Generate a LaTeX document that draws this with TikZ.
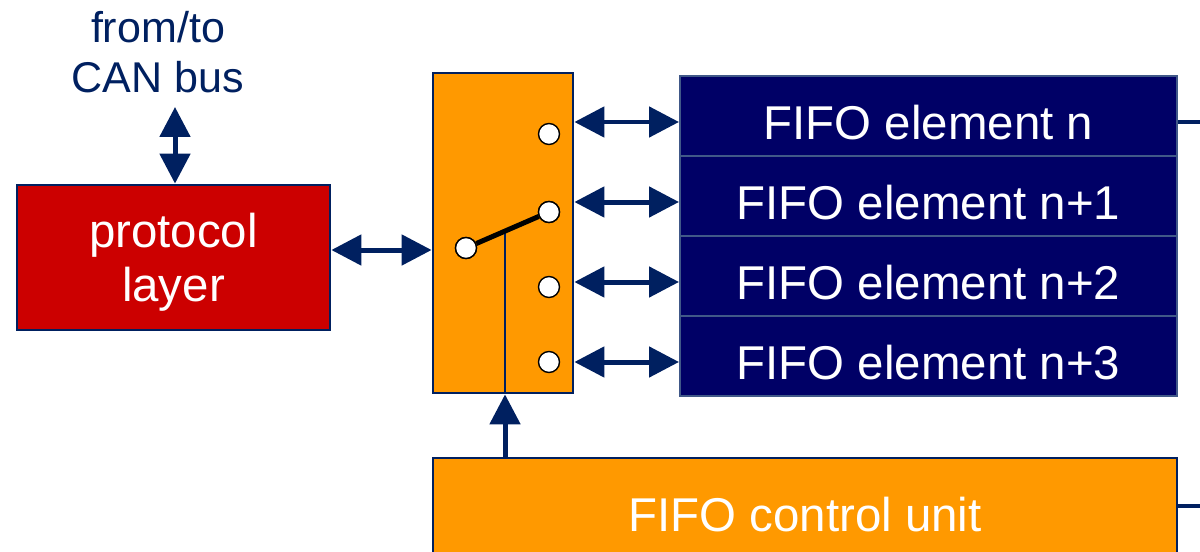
\documentclass[tikz,border=0pt]{standalone}
\usepackage{fontspec}
\setmainfont{Liberation Sans}
\usetikzlibrary{arrows.meta, positioning, calc}
\definecolor{busblue}{RGB}{0,32,96}
\definecolor{fifonavy}{RGB}{0,0,102}
\definecolor{ctrlorange}{RGB}{255,153,0}
\definecolor{protored}{RGB}{204,0,0}

\begin{document}
\begin{tikzpicture}[x=0.02cm, y=-0.02cm,
    box/.style={rectangle, draw=busblue, line width=1.6pt, text=white, align=center, font=\fontsize{27}{31}\selectfont},
    swbox/.style={rectangle, draw=busblue, line width=1.6pt, fill=ctrlorange},
    fifobox/.style={rectangle, draw=busblue!75!white, line width=1.2pt, fill=fifonavy, text=white, minimum width=9.94cm, minimum height=1.6cm, font=\fontsize{27}{34}\selectfont, text height=27pt, text depth=0pt},
    pin/.style={circle, draw=black, fill=white, line width=0.8pt, inner sep=0pt, minimum size=0.42cm},
    arr/.style={{Triangle[length=0.6cm,width=0.6cm]}-{Triangle[length=0.6cm,width=0.6cm]}, draw=busblue, line width=0.1cm},
    uparr/.style={-{Triangle[length=0.6cm,width=0.6cm]}, draw=busblue, line width=0.1cm}
  ]
    \clip (0,0) rectangle (1200,551);
    \node[font=\fontsize{24.5}{28.5}\selectfont, text=busblue, align=center] (bus) at (158,52) {from/to\\CAN bus};
    \node[box, fill=protored, minimum width=6.26cm, minimum height=2.9cm] (proto) at (173.5,257.5) {\rule{0pt}{25pt}protocol\\layer};
    \node[swbox, minimum width=2.8cm, minimum height=6.4cm] (sw) at (503,233) {};
    \foreach \lbl [count=\i] in {n, n+1, n+2, n+3}
      \node[fifobox] (fifo\i) at (928.5,36+80*\i) {FIFO element \lbl};
    \node[box, fill=ctrlorange, minimum width=14.88cm, minimum height=2.28cm] (ctrl) at (805,515) {FIFO control unit};

    % switch contacts
    \node[pin] (p0) at (466,248) {};
    \foreach \y [count=\i] in {134,212,287,362}
      \node[pin] (p\i) at (549,\y) {};
    \coordinate (lever) at ($(p0.center)!0.47!(p2.center)$);
    \draw[busblue, line width=1.2pt] (lever) -- (lever |- sw.south);
    \draw[line width=0.1cm] (p0) -- (p2);
    \node[pin] at (p0) {};
    \node[pin] at (p2) {};

    % connectors
    \coordinate (bustip) at (175,107);
    \coordinate (outfifo) at (1200,122);
    \coordinate (outctrl) at (1200,506);
    \draw[arr] (proto.north -| bustip) -- (bustip);
    \draw[arr] ([yshift=0.15cm]proto.east) -- ([yshift=0.15cm]proto.east -| sw.west);
    \foreach \i in {1,...,4}
      \draw[arr] ([yshift=-0.12cm]fifo\i.west -| sw.east) -- ([yshift=-0.12cm]fifo\i.west);
    \draw[uparr] (ctrl.north -| lever) -- (sw.south -| lever);
    \draw[busblue, line width=0.08cm] (fifo1.east |- outfifo) -- (outfifo);
    \draw[busblue, line width=0.08cm] (ctrl.east |- outctrl) -- (outctrl);
\end{tikzpicture}
\end{document}
